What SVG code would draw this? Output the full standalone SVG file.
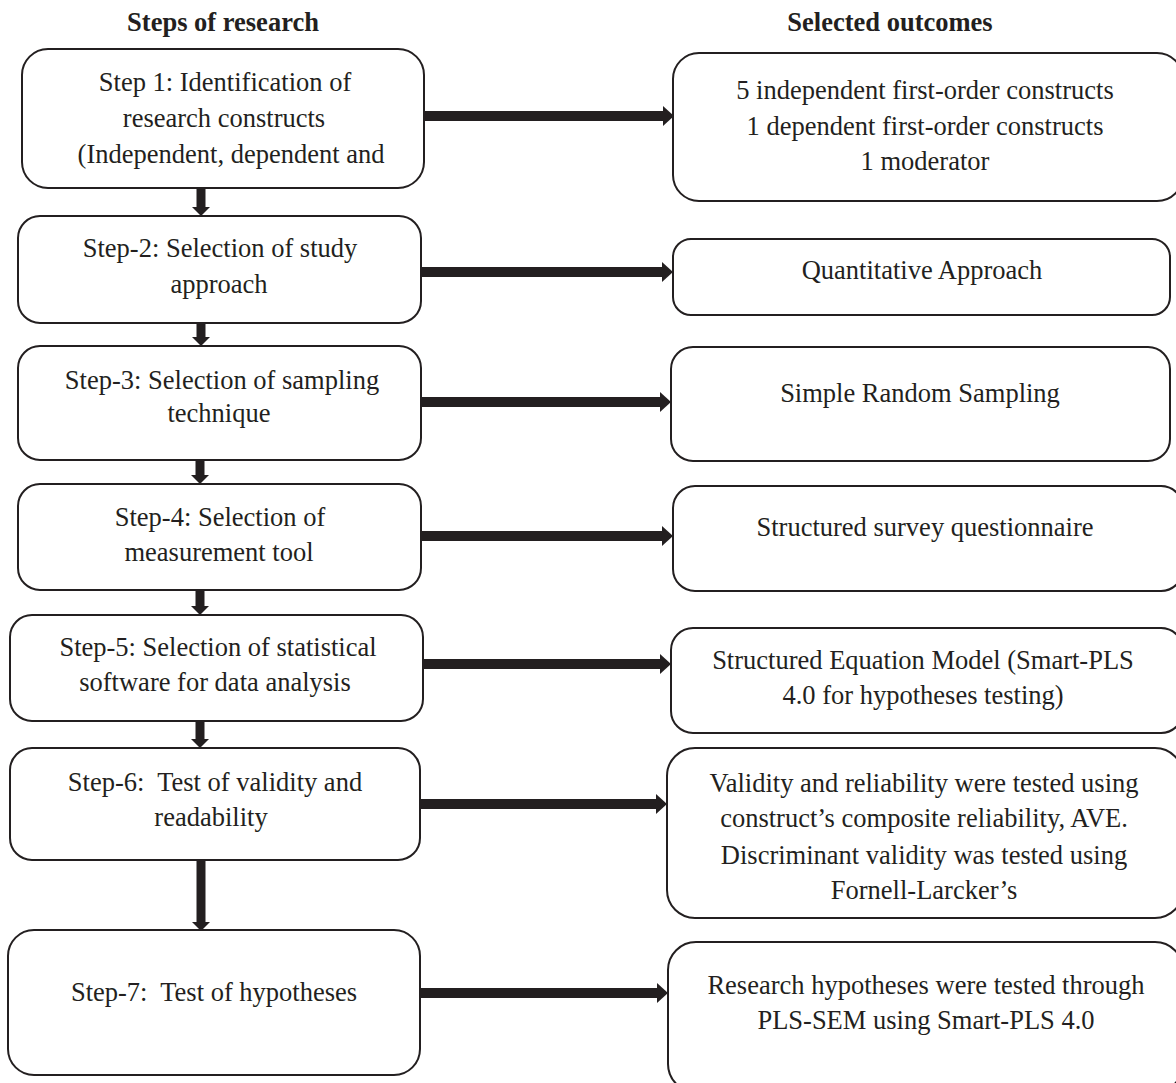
<svg xmlns="http://www.w3.org/2000/svg" width="1176" height="1083" viewBox="0 0 1176 1083">
<defs>
<style>
.box{fill:#fff;stroke:#231f20;stroke-width:2}
.t{font-family:'Liberation Serif','Times New Roman',serif;font-size:26.5px;fill:#231f20;text-anchor:middle}
.h{font-family:'Liberation Serif','Times New Roman',serif;font-size:26.5px;font-weight:bold;fill:#231f20;text-anchor:middle}
.c{stroke:#231f20;stroke-width:10;fill:none}
.v{stroke:#231f20;stroke-width:9;fill:none}
</style>
<marker id="ah" markerUnits="userSpaceOnUse" markerWidth="12" markerHeight="20" refX="1" refY="10" orient="auto" overflow="visible">
<path d="M0,0 L11,10 L0,20 z" fill="#231f20"/>
</marker>
<marker id="av" markerUnits="userSpaceOnUse" markerWidth="10" markerHeight="18" refX="1" refY="9" orient="auto" overflow="visible">
<path d="M0,0 L9,9 L0,18 z" fill="#231f20"/>
</marker>
</defs>
<rect width="1176" height="1083" fill="#fff"/>
<g id="headers">
<text class="h" x="223" y="31">Steps of research</text>
<text class="h" x="890" y="31">Selected outcomes</text>
</g>
<g id="connectors">
<line class="c" x1="424" y1="116" x2="664" y2="116" marker-end="url(#ah)"/>
<line class="c" x1="421" y1="272" x2="663" y2="272" marker-end="url(#ah)"/>
<line class="c" x1="421" y1="402" x2="661" y2="402" marker-end="url(#ah)"/>
<line class="c" x1="421" y1="536" x2="663" y2="536" marker-end="url(#ah)"/>
<line class="c" x1="423" y1="664" x2="661" y2="664" marker-end="url(#ah)"/>
<line class="c" x1="420" y1="804" x2="657" y2="804" marker-end="url(#ah)"/>
<line class="c" x1="420" y1="993" x2="658" y2="993" marker-end="url(#ah)"/>
<line class="v" x1="201" y1="188" x2="201" y2="208" marker-end="url(#av)"/>
<line class="v" x1="201" y1="323" x2="201" y2="338" marker-end="url(#av)"/>
<line class="v" x1="200" y1="460" x2="200" y2="476" marker-end="url(#av)"/>
<line class="v" x1="200" y1="590" x2="200" y2="607" marker-end="url(#av)"/>
<line class="v" x1="200" y1="721" x2="200" y2="740" marker-end="url(#av)"/>
<line class="v" x1="201" y1="860" x2="201" y2="923" marker-end="url(#av)"/>
</g>
<g id="step1"><rect class="box" x="22" y="49" width="402" height="139" rx="26"/>
<text class="t" x="225" y="91">Step 1: Identification of</text>
<text class="t" x="224" y="127">research constructs</text>
<text class="t" x="231" y="163">(Independent, dependent and</text></g>
<g id="step2"><rect class="box" x="18" y="216" width="403" height="107" rx="22"/>
<text class="t" x="220" y="257">Step-2: Selection of study</text>
<text class="t" x="219" y="293">approach</text></g>
<g id="step3"><rect class="box" x="18" y="346" width="403" height="114" rx="22"/>
<text class="t" x="222" y="389">Step-3: Selection of sampling</text>
<text class="t" x="219" y="422">technique</text></g>
<g id="step4"><rect class="box" x="18" y="484" width="403" height="106" rx="22"/>
<text class="t" x="220" y="526">Step-4: Selection of</text>
<text class="t" x="219" y="561">measurement tool</text></g>
<g id="step5"><rect class="box" x="10" y="615" width="413" height="106" rx="22"/>
<text class="t" x="218" y="656">Step-5: Selection of statistical</text>
<text class="t" x="215" y="691">software for data analysis</text></g>
<g id="step6"><rect class="box" x="10" y="748" width="410" height="112" rx="22"/>
<text class="t" x="215" y="791" xml:space="preserve">Step-6:  Test of validity and</text>
<text class="t" x="211" y="826">readability</text></g>
<g id="step7"><rect class="box" x="8" y="930" width="412" height="145" rx="26"/>
<text class="t" x="214" y="1001" xml:space="preserve">Step-7:  Test of hypotheses</text></g>
<g id="out1"><rect class="box" x="673" y="53" width="510" height="148" rx="26"/>
<text class="t" x="925" y="99">5 independent first-order constructs</text>
<text class="t" x="925" y="135">1 dependent first-order constructs</text>
<text class="t" x="925" y="170">1 moderator</text></g>
<g id="out2"><rect class="box" x="673" y="239" width="497" height="76" rx="18"/>
<text class="t" x="922" y="279">Quantitative Approach</text></g>
<g id="out3"><rect class="box" x="671" y="347" width="499" height="114" rx="22"/>
<text class="t" x="920" y="402">Simple Random Sampling</text></g>
<g id="out4"><rect class="box" x="673" y="486" width="510" height="105" rx="22"/>
<text class="t" x="925" y="536">Structured survey questionnaire</text></g>
<g id="out5"><rect class="box" x="671" y="628" width="512" height="105" rx="22"/>
<text class="t" x="923" y="669">Structured Equation Model (Smart-PLS</text>
<text class="t" x="923" y="704">4.0 for hypotheses testing)</text></g>
<g id="out6"><rect class="box" x="667" y="748" width="516" height="170" rx="28"/>
<text class="t" x="924" y="792">Validity and reliability were tested using</text>
<text class="t" x="924" y="827">construct’s composite reliability, AVE.</text>
<text class="t" x="924" y="864">Discriminant validity was tested using</text>
<text class="t" x="924" y="899">Fornell-Larcker’s</text></g>
<g id="out7"><rect class="box" x="668" y="942" width="515" height="150" rx="28"/>
<text class="t" x="926" y="994">Research hypotheses were tested through</text>
<text class="t" x="926" y="1029">PLS-SEM using Smart-PLS 4.0</text></g>
</svg>
